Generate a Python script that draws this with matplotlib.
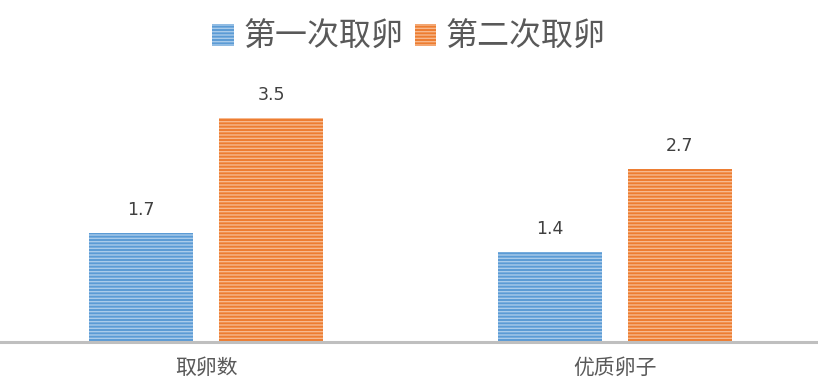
import numpy as np
import matplotlib
matplotlib.use("Agg")
import matplotlib.pyplot as plt
from matplotlib.patches import Patch

plt.rcParams['font.family'] = ['Noto Sans CJK SC', 'DejaVu Sans']
plt.rcParams['hatch.linewidth'] = 1.0

categories = ['取卵数', '优质卵子']
series_names = ['第一次取卵', '第二次取卵']
first = [1.7, 1.4]
second = [3.5, 2.7]

blue, blue_light = '#5B9BD5', '#A9CBEA'
orange, orange_light = '#ED7D31', '#F7B98E'

fig = plt.figure(figsize=(8.18, 3.92), dpi=100)
ax = fig.add_axes([0.0, 0.1276, 1.0, 0.653])

x = np.arange(len(categories))
w = 0.254
off = 0.1585
b1 = ax.bar(x - off, first, w, color=blue, edgecolor=blue_light, hatch='-----', linewidth=0)
b2 = ax.bar(x + off, second, w, color=orange, edgecolor=orange_light, hatch='-----', linewidth=0)

for bars, vals in ((b1, first), (b2, second)):
    for r, v in zip(bars, vals):
        ax.annotate(f'{v}', (r.get_x() + r.get_width() / 2, v), xytext=(0, 14),
                    textcoords='offset pixels', ha='center', va='bottom',
                    fontsize=12.5, color='#404040', family='DejaVu Sans')

ax.set_xlim(-0.504, 1.496)
ax.set_ylim(0, 4)
ax.set_xticks(x)
ax.set_xticklabels(categories, fontsize=15, color='#595959')
ax.tick_params(axis='x', length=0, pad=11)
ax.set_yticks([])
for s in ['top', 'right', 'left']:
    ax.spines[s].set_visible(False)
ax.spines['bottom'].set_color('#BFBFBF')
ax.spines['bottom'].set_linewidth(2.2)

handles = [Patch(facecolor=blue, edgecolor=blue_light, hatch='-----', linewidth=0),
           Patch(facecolor=orange, edgecolor=orange_light, hatch='-----', linewidth=0)]
fig.legend(handles, series_names, loc='center', bbox_to_anchor=(0.5, 0.905), ncol=2,
           frameon=False, fontsize=23, labelcolor='#595959',
           handlelength=0.68, handleheight=0.68, handletextpad=0.3, columnspacing=0.35)

fig.savefig('out.png', dpi=100)
